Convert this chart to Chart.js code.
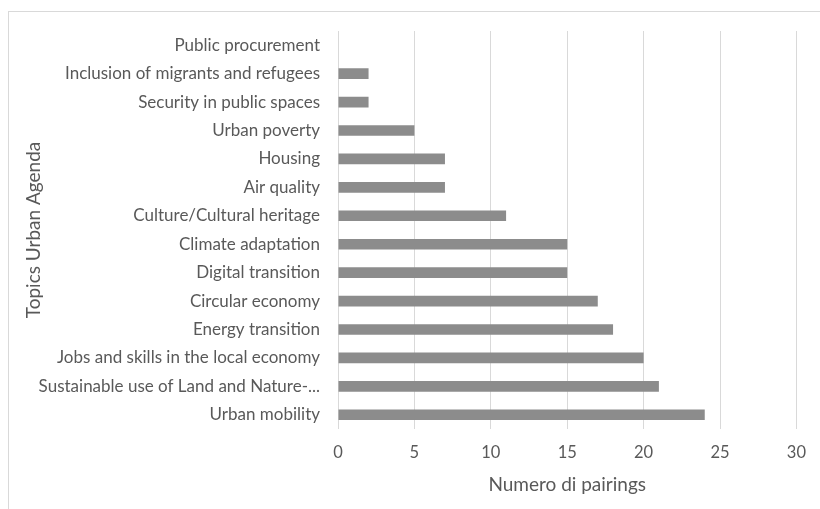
<!DOCTYPE html>
<html>
<head>
<meta charset="utf-8">
<script src="https://cdn.jsdelivr.net/npm/chart.js@4.4.1/dist/chart.umd.min.js"></script>
<style>
  html, body { margin: 0; padding: 0; background: #ffffff; }
  #wrap { position: relative; width: 820px; height: 509px; overflow: hidden; }
  #frame { position: absolute; left: 8px; top: 11px; width: 830px; height: 520px;
           border-left: 1px solid #d9d9d9; border-top: 1px solid #d9d9d9; box-sizing: border-box; }
  canvas { position: absolute; left: 0; top: 0; }
</style>
</head>
<body>
<div id="wrap">
  <div id="frame"></div>
  <canvas id="c" width="820" height="509"></canvas>
</div>
<script>
const categories = [
  "Public procurement",
  "Inclusion of migrants and refugees",
  "Security in public spaces",
  "Urban poverty",
  "Housing",
  "Air quality",
  "Culture/Cultural heritage",
  "Climate adaptation",
  "Digital transition",
  "Circular economy",
  "Energy transition",
  "Jobs and skills in the local economy",
  "Sustainable use of Land and Nature-...",
  "Urban mobility"
];
const pairings = [0, 2, 2, 5, 7, 7, 11, 15, 15, 17, 18, 20, 21, 24];
const xTicks = [0, 5, 10, 15, 20, 25, 30];
const xTitle = "Numero di pairings";
const yTitle = "Topics Urban Agenda";

const FONT = "Lato, 'Open Sans', sans-serif";
const TXT = "#595959";

new Chart(document.getElementById('c'), {
  type: 'bar',
  data: {
    labels: categories,
    datasets: [{
      data: pairings,
      backgroundColor: '#8c8c8c',
      borderWidth: 0,
      barPercentage: 0.75,
      categoryPercentage: 0.5
    }]
  },
  options: {
    indexAxis: 'y',
    responsive: false,
    animation: false,
    devicePixelRatio: 1,
    layout: { padding: { left: 0, right: 22, top: 31, bottom: 0 } },
    plugins: { legend: { display: false }, tooltip: { enabled: false } },
    scales: {
      x: {
        min: 0, max: 30,
        afterBuildTicks: (s) => { s.ticks = xTicks.map(v => ({ value: v })); },
        afterFit: (s) => { s.height = 80; },
        grid: { color: '#d9d9d9', lineWidth: 1, drawTicks: false },
        border: { display: false },
        ticks: { color: TXT, font: { family: FONT, size: 16.5 }, padding: 14 },
        title: { display: true, text: xTitle, color: TXT, font: { family: FONT, size: 19 },
                 padding: { top: 0, bottom: 12.6 } }
      },
      y: {
        afterFit: (s) => { s.width = 338; },
        grid: { display: false, drawTicks: false },
        border: { display: false },
        ticks: { color: TXT, font: { family: FONT, size: 17 }, padding: 18, autoSkip: false },
        title: { display: true, text: yTitle, color: TXT, font: { family: FONT, size: 19 },
                 padding: { top: 22.6, bottom: 0 } }
      }
    }
  }
});
</script>
</body>
</html>
